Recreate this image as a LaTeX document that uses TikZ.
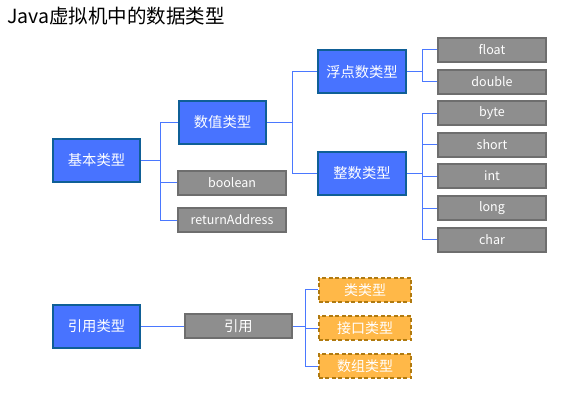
\documentclass[tikz,border=0pt]{standalone}
\usepackage{fontspec}
\setmainfont{Noto Sans CJK SC}
\begin{document}
\begin{tikzpicture}[x=1pt,y=-1pt,
  every node/.style={inner sep=0pt, text=white, font=\fontsize{14.3}{15}\selectfont},
  bluebox/.style={draw=boxedge, fill=boxblue, line width=2pt, minimum width=87.5pt, minimum height=43pt},
  graybox/.style={draw=grayedge, fill=boxgray, line width=2pt, minimum width=107.5pt, minimum height=24pt, font=\fontsize{12.5}{13}\selectfont},
  orangebox/.style={draw=orangeedge, fill=boxorange, line width=2pt, dash pattern=on 4pt off 2.5pt, minimum width=92.5pt, minimum height=24pt, font=\fontsize{14}{15}\selectfont},
  link/.style={draw=linkblue, line width=0.9pt}]
\definecolor{boxblue}{HTML}{4873FF}
\definecolor{boxedge}{HTML}{0F5F96}
\definecolor{boxgray}{HTML}{8E8E8E}
\definecolor{grayedge}{HTML}{6E6E6E}
\definecolor{boxorange}{HTML}{FFB848}
\definecolor{orangeedge}{HTML}{B07A10}
\definecolor{linkblue}{HTML}{4A78FF}
\useasboundingbox (0,0) rectangle (575,400);

% title
\node[anchor=west, text=black, font=\fontsize{19.5}{21}\selectfont] (title) at (7,16) {Java虚拟机中的数据类型};

% primitive types
\node[bluebox] (basic) at (96.5,160) {基本类型};
\node[bluebox] (numeric) at (222.5,122.5) {数值类型};
\node[graybox] (boolean) at (232,182.5) {boolean};
\node[graybox] (retaddr) at (232,220) {returnAddress};
\node[bluebox] (floating) at (362,71.7) {浮点数类型};
\node[bluebox] (integral) at (362,173) {整数类型};
\node[graybox] (float) at (492,49.5) {float};
\node[graybox] (double) at (492,81.5) {double};
\node[graybox] (byte) at (492,113) {byte};
\node[graybox] (short) at (492,144.5) {short};
\node[graybox] (int) at (492,176) {int};
\node[graybox] (long) at (492,208) {long};
\node[graybox] (char) at (492,239.5) {char};

% reference types
\node[bluebox] (reftype) at (96.5,326) {引用类型};
\node[graybox, font=\fontsize{14.3}{15}\selectfont] (ref) at (238.3,326) {引用};
\node[orangebox] (classt) at (365,289.7) {类类型};
\node[orangebox] (ifacet) at (365,328) {接口类型};
\node[orangebox] (arrayt) at (365,366.2) {数组类型};

% tree connectors
\foreach \c in {numeric,boolean,retaddr}
  \draw[link] (basic.east) -- ++(19,0) |- (\c.west);
\foreach \c in {floating,integral}
  \draw[link] (numeric.east) -- ++(25.5,0) |- (\c.west);
\foreach \c in {float,double}
  \draw[link] (floating.east) -- ++(16,0) |- (\c.west);
\foreach \c in {byte,short,int,long,char}
  \draw[link] (integral.east) -- ++(16,0) |- (\c.west);
\draw[link] (reftype.east) -- (ref.west);
\foreach \c in {classt,ifacet,arrayt}
  \draw[link] (ref.east) -- ++(12.7,0) |- (\c.west);
\end{tikzpicture}
\end{document}
